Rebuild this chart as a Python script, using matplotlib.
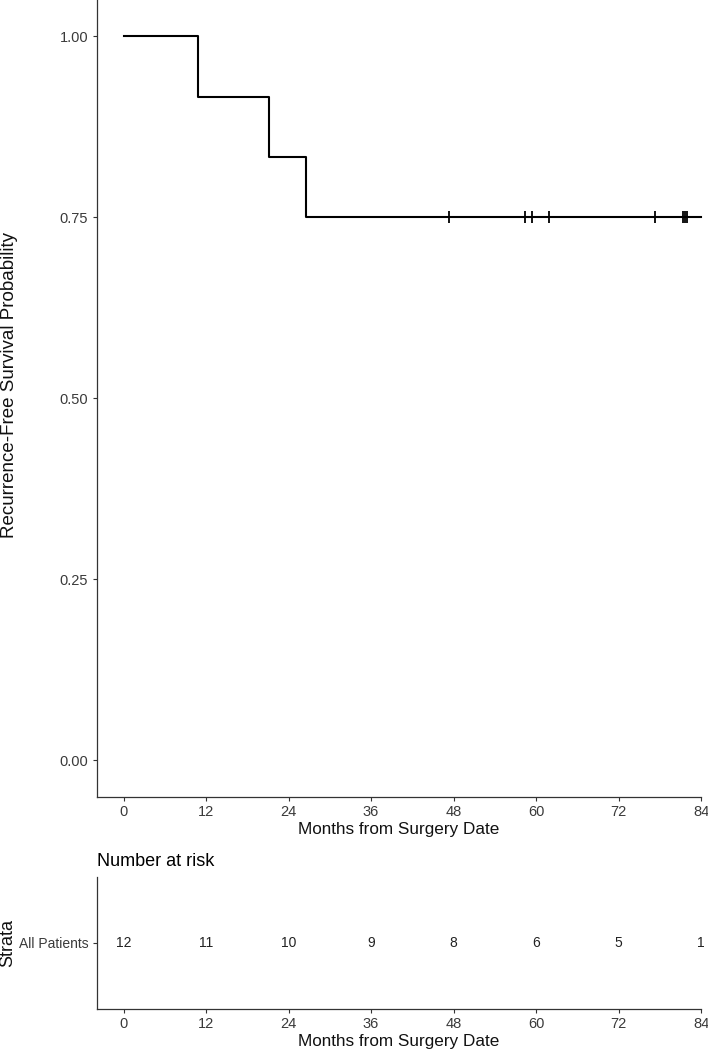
import numpy as np
import matplotlib
matplotlib.use("Agg")
import matplotlib.pyplot as plt

plt.rcParams['font.family'] = ['Liberation Sans', 'DejaVu Sans']

# Kaplan-Meier step data (months, survival)
event_times = [0, 10.9, 21.1, 26.6]
survival = [1.0, 11 / 12, 10 / 12, 9 / 12]
curve_end = 84
censor_times = [47.4, 58.4, 59.4, 61.9, 77.3, 81.4, 81.7, 82.0]
censor_surv = [0.75] * len(censor_times)

# risk table
risk_times = [0, 12, 24, 36, 48, 60, 72, 84]
risk_counts = [12, 11, 10, 9, 8, 6, 5, 1]
strata = "All Patients"

xticks = [0, 12, 24, 36, 48, 60, 72, 84]
yticks = [0.0, 0.25, 0.5, 0.75, 1.0]

W, H = 708, 1052
fig = plt.figure(figsize=(W / 100, H / 100), dpi=100)

TICK_COLOR = "#3a3a3a"
AXIS_COLOR = "#333333"
LEFT, RIGHT = 96.7, 701


def px_axes(left, top, right, bottom):
    return fig.add_axes([left / W, 1 - bottom / H, (right - left) / W, (bottom - top) / H])


def style(ax):
    for s in ['top', 'right']:
        ax.spines[s].set_visible(False)
    for s in ['left', 'bottom']:
        ax.spines[s].set_color(AXIS_COLOR)
        ax.spines[s].set_linewidth(0.9)
    ax.tick_params(colors=AXIS_COLOR, labelcolor=TICK_COLOR, labelsize=10.5,
                   length=3, width=0.8, pad=3)


# main survival plot
ax = px_axes(LEFT, 0, RIGHT, 796.7)
xs = event_times + [curve_end]
ys = survival + [survival[-1]]
ax.step(xs, ys, where='post', color='black', lw=1.5, clip_on=False)
ax.plot(censor_times, censor_surv, linestyle='none', marker='+', color='black',
        markersize=8, markeredgewidth=1.3)
ax.set_xlim(-3.9, 84)
ax.set_ylim(-0.05, 1.05)
ax.set_xticks(xticks)
ax.set_yticks(yticks)
ax.set_yticklabels([f"{v:.2f}" for v in yticks])
style(ax)
ax.set_xlabel("Months from Surgery Date", fontsize=12.3, color="#111111", labelpad=2)
ax.set_ylabel("Recurrence-Free Survival Probability", fontsize=13.5, color="#111111")
ax.yaxis.set_label_coords((18 - LEFT) / (RIGHT - LEFT), 1 - 385 / 796.7)

# risk table
rt = px_axes(LEFT, 876.7, RIGHT, 1009)
for t, n in zip(risk_times, risk_counts):
    rt.text(t, 0, str(n), ha='center', va='center', fontsize=10, color="#222222")
rt.set_xlim(-3.9, 84)
rt.set_ylim(-1, 1)
rt.set_xticks(xticks)
rt.set_yticks([0])
rt.set_yticklabels([strata])
style(rt)
rt.tick_params(axis='y', labelsize=10)
rt.set_xlabel("Months from Surgery Date", fontsize=12.3, color="#111111", labelpad=2)
rt.set_ylabel("Strata", fontsize=13, color="#111111")
rt.yaxis.set_label_coords((16 - LEFT) / (RIGHT - LEFT), 0.5)
rt.set_title("Number at risk", loc='left', fontsize=13, pad=8)

fig.savefig("out.png", dpi=100)
